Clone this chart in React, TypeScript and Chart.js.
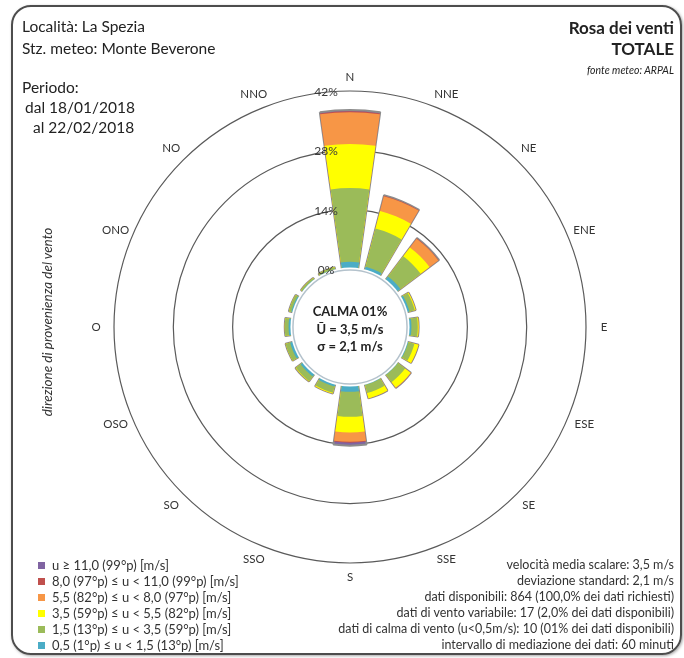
import React, { useEffect, useRef } from "react";
import { Chart, registerables } from "chart.js";

Chart.register(...registerables);

// ---------- data ----------
const DIRECTIONS = ["N", "NNE", "NE", "ENE", "E", "ESE", "SE", "SSE", "S", "SSO", "SO", "OSO", "O", "ONO", "NO", "NNO"];

// frequency (% of data) per speed class and direction
const FREQ_05_15 = [1.7, 1.0, 1.2, 0.8, 0.8, 0.5, 0.4, 0.4, 1.6, 0.8, 0.9, 0.9, 0.8, 0.6, 0.4, 0.4];
const FREQ_15_35 = [17.4, 9.3, 6.0, 1.3, 1.5, 1.5, 2.2, 2.0, 5.9, 1.5, 1.4, 1.1, 0.9, 0.6, 0.4, 0.5];
const FREQ_35_55 = [10.4, 4.3, 2.6, 0.2, 0.2, 1.0, 1.6, 1.3, 3.7, 0.2, 0.1, 0.0, 0.0, 0.0, 0.0, 0.0];
const FREQ_55_80 = [7.5, 3.6, 2.6, 0.0, 0.0, 0.0, 0.1, 0.0, 2.2, 0.0, 0.0, 0.0, 0.0, 0.0, 0.0, 0.0];
const FREQ_80_110 = [0.2, 0.1, 0.1, 0.0, 0.0, 0.0, 0.0, 0.0, 0.2, 0.0, 0.0, 0.0, 0.0, 0.0, 0.0, 0.0];
const FREQ_110 = [0.3, 0.1, 0.1, 0.0, 0.0, 0.0, 0.0, 0.0, 0.7, 0.0, 0.0, 0.0, 0.0, 0.0, 0.0, 0.0];

const CLASS_LABELS = [
  "0,5 (1°p) ≤ u < 1,5 (13°p) [m/s]",
  "1,5 (13°p) ≤ u < 3,5 (59°p) [m/s]",
  "3,5 (59°p) ≤ u < 5,5 (82°p) [m/s]",
  "5,5 (82°p) ≤ u < 8,0 (97°p) [m/s]",
  "8,0 (97°p) ≤ u < 11,0 (99°p) [m/s]",
  "u ≥ 11,0 (99°p) [m/s]",
];
const CLASS_COLORS = ["#4bacc6", "#9bbb59", "#ffff00", "#f79646", "#c0504d", "#8064a2"];

const TICK_VALUES = [0, 14, 28, 42];

const CALM_LINES = ["CALMA 01%", "Ū = 3,5 m/s", "σ = 2,1 m/s"];

const INFO_LEFT = ["Località: La Spezia", "Stz. meteo: Monte Beverone"];
const PERIOD_LINES = ["Periodo:", "dal 18/01/2018", "al 22/02/2018"];
const STATS_LINES = [
  "velocità media scalare: 3,5 m/s",
  "deviazione standard: 2,1 m/s",
  "dati disponibili: 864 (100,0% dei dati richiesti)",
  "dati di vento variabile: 17 (2,0% dei dati disponibili)",
  "dati di calma di vento (u<0,5m/s): 10 (01% dei dati disponibili)",
  "intervallo di mediazione dei dati: 60 minuti",
];

// ---------- geometry settings ----------
const BAR_ANGLE = 16;
const GAP_ANGLE = 360 / DIRECTIONS.length - BAR_ANGLE;
const R_MAX = TICK_VALUES[TICK_VALUES.length - 1];
const R_MIN = -13.7; // leaves room for the calm circle
const FONT = "Lato, 'Open Sans', sans-serif";

const CLASSES = [FREQ_05_15, FREQ_15_35, FREQ_35_55, FREQ_55_80, FREQ_80_110, FREQ_110];

const roseDecor = {
  id: "roseDecor",
  afterDatasetsDraw(chart: any) {
    const s = chart.scales.r;
    const ctx = chart.ctx as CanvasRenderingContext2D;
    const cx = s.xCenter;
    const cy = s.yCenter;
    const r0 = s.getDistanceFromCenterForValue(0);
    ctx.save();
    // calm circle
    ctx.beginPath();
    ctx.arc(cx, cy, r0 + 1.5, 0, Math.PI * 2);
    ctx.fillStyle = "#ffffff";
    ctx.fill();
    ctx.beginPath();
    ctx.arc(cx, cy, r0 - 1, 0, Math.PI * 2);
    ctx.strokeStyle = "#b4c2cc";
    ctx.lineWidth = 1.5;
    ctx.stroke();
    // calm text
    ctx.fillStyle = "#222";
    ctx.font = `bold 13px ${FONT}`;
    ctx.textAlign = "center";
    ctx.textBaseline = "middle";
    CALM_LINES.forEach((t, i) => ctx.fillText(t, cx, cy - 15 + i * 17.5));
    // radial tick labels
    ctx.font = `12px ${FONT}`;
    ctx.fillStyle = "#3a3a3a";
    s.ticks.forEach((t: any) => {
      if (t.value < 0) return;
      const d = s.getDistanceFromCenterForValue(t.value);
      ctx.fillText(`${t.value}%`, cx - 24, cy - d + 1);
    });
    // direction labels
    ctx.font = `11.5px ${FONT}`;
    ctx.fillStyle = "#333";
    DIRECTIONS.forEach((d, k) => {
      const a = (k * 2 * Math.PI) / DIRECTIONS.length;
      const R = s.drawingArea + 14 + 4 * Math.abs(Math.sin(a));
      ctx.fillText(d, cx + R * Math.sin(a), cy - R * Math.cos(a));
    });
    ctx.restore();
  },
};

export default function App() {
  const ref = useRef<HTMLCanvasElement>(null);

  useEffect(() => {
    if (!ref.current) return;
    const labels = DIRECTIONS.flatMap((d) => [d, ""]);
    const datasets = CLASSES.map((_, ci) => {
      const cum = DIRECTIONS.map((__, di) => CLASSES.slice(0, ci + 1).reduce((sum, arr) => sum + arr[di], 0));
      const isTotal = ci === CLASSES.length - 1;
      return {
        label: CLASS_LABELS[ci],
        data: cum.flatMap((v) => [v, R_MIN]),
        backgroundColor: CLASS_COLORS[ci],
        borderColor: isTotal ? "#8c8c8c" : "rgba(0,0,0,0)",
        borderWidth: (c: any) => (isTotal && c.dataIndex % 2 === 0 ? 2 : 0),
        angle: (c: any) => (c.dataIndex % 2 === 0 ? BAR_ANGLE : GAP_ANGLE),
      };
    });
    const chart = new Chart(ref.current, {
      type: "polarArea",
      data: { labels, datasets: datasets as any },
      options: {
        responsive: false,
        animation: false,
        events: [],
        layout: { padding: { left: 114, top: 91, right: 98, bottom: 95 } },
        plugins: { legend: { display: false }, tooltip: { enabled: false } },
        scales: {
          r: {
            min: R_MIN,
            max: R_MAX,
            startAngle: -BAR_ANGLE / 2,
            ticks: { display: false, stepSize: TICK_VALUES[1] - TICK_VALUES[0] },
            grid: { color: "#5a5a5a", lineWidth: 1.2, circular: true },
            angleLines: { display: false },
            pointLabels: { display: false },
          },
        },
      } as any,
      plugins: [roseDecor],
    });
    return () => chart.destroy();
  }, []);

  const legendRows = CLASS_LABELS.map((l, i) => ({ label: l, color: CLASS_COLORS[i] })).reverse();

  return (
    <div style={{ position: "fixed", left: 0, top: 0, width: 684, height: 658, background: "#fff", fontFamily: FONT, color: "#222" }}>
      <canvas ref={ref} width={684} height={658} style={{ position: "absolute", left: 0, top: 0, display: "block" }} />
      <div
        style={{
          position: "absolute", left: 11, top: 5, width: 667, height: 646,
          border: "2px solid #4d4d4d", borderRadius: 20, boxShadow: "1px 1px 3px rgba(0,0,0,0.35)", pointerEvents: "none",
        }}
      />
      {INFO_LEFT.map((t, i) => (
        <div key={t} style={{ position: "absolute", left: 22, top: 16 + i * 22, fontSize: 15.5, lineHeight: "20px", whiteSpace: "nowrap" }}>{t}</div>
      ))}
      {PERIOD_LINES.map((t, i) => (
        <div key={t} style={{ position: "absolute", left: [22, 25, 33][i], top: 77 + i * 20, fontSize: 15.5, lineHeight: "20px", whiteSpace: "nowrap" }}>{t}</div>
      ))}
      <div style={{ position: "absolute", right: 10, top: 17, fontSize: 17, fontWeight: 700, lineHeight: "21px", textAlign: "right", whiteSpace: "nowrap" }}>
        Rosa dei venti<br />TOTALE
      </div>
      <div style={{ position: "absolute", right: 10, top: 63, fontSize: 10.5, fontStyle: "italic", lineHeight: "14px", whiteSpace: "nowrap" }}>fonte meteo: ARPAL</div>
      <div
        style={{
          position: "absolute", left: 47, top: 322, transform: "translate(-50%, -50%) rotate(-90deg)",
          fontSize: 13.5, fontStyle: "italic", whiteSpace: "nowrap", color: "#333",
        }}
      >
        direzione di provenienza del vento
      </div>
      {legendRows.map((r, i) => (
        <div key={r.label} style={{ position: "absolute", left: 38, top: 557 + i * 16, height: 16, display: "flex", alignItems: "center", fontSize: 13, whiteSpace: "nowrap", color: "#333" }}>
          <span style={{ display: "inline-block", width: 7, height: 7, background: r.color, marginRight: 7 }} />
          {r.label}
        </div>
      ))}
      {STATS_LINES.map((t, i) => (
        <div key={t} style={{ position: "absolute", right: 10, top: 557 + i * 16, height: 16, lineHeight: "16px", fontSize: 12.5, whiteSpace: "nowrap", color: "#333", textAlign: "right" }}>{t}</div>
      ))}
    </div>
  );
}
